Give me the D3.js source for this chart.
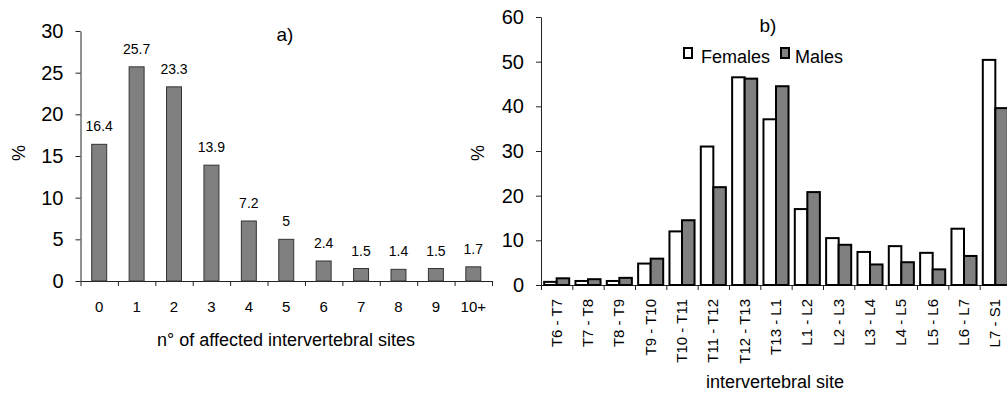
<!DOCTYPE html>
<html>
<head>
<meta charset="utf-8">
<script src="https://cdn.jsdelivr.net/npm/d3@7"></script>
<style>
  body { margin: 0; background: #fff; }
  svg text { font-family: "Liberation Sans", Arial, sans-serif; fill: #000; }
</style>
</head>
<body>
<div id="chart"></div>
<script>
// Panel a) data
var nSites = ["0", "1", "2", "3", "4", "5", "6", "7", "8", "9", "10+"];
var nSitesPct = [16.4, 25.7, 23.3, 13.9, 7.2, 5, 2.4, 1.5, 1.4, 1.5, 1.7];
var yTicksA = [0, 5, 10, 15, 20, 25, 30];

// Panel b) data
var sites = ["T6 - T7", "T7 - T8", "T8 - T9", "T9 - T10", "T10 - T11", "T11 - T12", "T12 - T13",
  "T13 - L1", "L1 - L2", "L2 - L3", "L3 - L4", "L4 - L5", "L5 - L6", "L6 - L7", "L7 - S1"];
var females = [0.7, 0.9, 0.9, 4.8, 12.0, 31.0, 46.5, 37.1, 17.0, 10.5, 7.4, 8.7, 7.2, 12.6, 50.4];
var males = [1.5, 1.3, 1.6, 5.9, 14.5, 21.9, 46.2, 44.5, 20.8, 9.0, 4.6, 5.1, 3.5, 6.5, 39.6];
var seriesNames = ["Females", "Males"];
var yTicksB = [0, 10, 20, 30, 40, 50, 60];

var svg = d3.select("#chart")
  .append("svg")
  .attr("width", 1007)
  .attr("height", 397);

// ---------- panel a ----------
var gA = svg.append("g");

var xA = d3.scaleBand()
  .domain(nSites)
  .range([80.5, 492])
  .paddingInner(0.6)
  .paddingOuter(0.3);

var yA = d3.scaleLinear()
  .domain([0, 30])
  .range([281, 31]);

// y axis
gA.append("g")
  .attr("transform", "translate(80.5,0)")
  .call(d3.axisLeft(yA).tickValues(yTicksA).tickSize(5).tickSizeOuter(0).tickPadding(12))
  .call(g => g.selectAll("text").attr("font-size", "20px").attr("font-family", null))
  .call(g => g.selectAll("line,path").attr("stroke", "#222"));

// x axis ticks at category boundaries
var xAb = d3.scaleLinear().domain([0, nSites.length]).range([80.5, 492]);
gA.append("g")
  .attr("transform", "translate(0,281)")
  .call(d3.axisBottom(xAb).ticks(nSites.length).tickFormat("").tickSize(5).tickSizeOuter(0))
  .call(g => g.selectAll("line,path").attr("stroke", "#222"));

// category labels
gA.append("g").selectAll("text")
  .data(nSites)
  .enter()
  .append("text")
  .attr("x", d => xA(d) + xA.bandwidth() / 2)
  .attr("y", 312)
  .attr("text-anchor", "middle")
  .attr("font-size", "15px")
  .text(d => d);

// bars
gA.append("g").selectAll("rect")
  .data(nSitesPct)
  .enter()
  .append("rect")
  .attr("x", (d, i) => xA(nSites[i]))
  .attr("y", d => yA(d))
  .attr("width", xA.bandwidth())
  .attr("height", d => yA(0) - yA(d))
  .attr("fill", "#808080")
  .attr("stroke", "#333")
  .attr("stroke-width", 1);

// value labels
gA.append("g").selectAll("text")
  .data(nSitesPct)
  .enter()
  .append("text")
  .attr("x", (d, i) => xA(nSites[i]) + xA.bandwidth() / 2)
  .attr("y", d => yA(d) - 13)
  .attr("text-anchor", "middle")
  .attr("font-size", "14px")
  .text(d => d);

gA.append("text")
  .attr("x", 286)
  .attr("y", 346)
  .attr("text-anchor", "middle")
  .attr("font-size", "18px")
  .text("n° of affected intervertebral sites");

gA.append("text")
  .attr("transform", "translate(25,153) rotate(-90)")
  .attr("text-anchor", "middle")
  .attr("font-size", "18px")
  .text("%");

gA.append("text")
  .attr("x", 285)
  .attr("y", 41)
  .attr("text-anchor", "middle")
  .attr("font-size", "19px")
  .text("a)");

// ---------- panel b ----------
var gB = svg.append("g");

var x0 = d3.scaleBand()
  .domain(sites)
  .range([541, 1011])
  .paddingInner(0.2)
  .paddingOuter(0.1);

var x1 = d3.scaleBand()
  .domain(seriesNames)
  .range([0, x0.bandwidth()]);

var yB = d3.scaleLinear()
  .domain([0, 60])
  .range([285, 17]);

gB.append("g")
  .attr("transform", "translate(541,0)")
  .call(d3.axisLeft(yB).tickValues(yTicksB).tickSize(5).tickSizeOuter(0).tickPadding(12))
  .call(g => g.selectAll("text").attr("font-size", "20px").attr("font-family", null))
  .call(g => g.selectAll("line,path").attr("stroke", "#222"));

var xBb = d3.scaleLinear().domain([0, sites.length]).range([541, 1011]);
gB.append("g")
  .attr("transform", "translate(0,285)")
  .call(d3.axisBottom(xBb).ticks(sites.length).tickFormat("").tickSize(5).tickSizeOuter(0))
  .call(g => g.selectAll("line,path").attr("stroke", "#222"));

// rotated site labels
gB.append("g").selectAll("text")
  .data(sites)
  .enter()
  .append("text")
  .attr("transform", d => `translate(${x0(d) + x0.bandwidth() / 2 + 5},299) rotate(-90)`)
  .attr("text-anchor", "end")
  .attr("font-size", "15px")
  .text(d => d);

var groups = gB.append("g").selectAll("g")
  .data(sites.map((s, i) => ({ site: s, values: [females[i], males[i]] })))
  .enter()
  .append("g")
  .attr("transform", d => `translate(${x0(d.site)},0)`);

groups.selectAll("rect")
  .data(d => d.values.map((v, j) => ({ key: seriesNames[j], value: v })))
  .enter()
  .append("rect")
  .attr("x", d => x1(d.key))
  .attr("y", d => yB(d.value))
  .attr("width", x1.bandwidth())
  .attr("height", d => yB(0) - yB(d.value))
  .attr("fill", d => d.key === "Females" ? "#fff" : "#808080")
  .attr("stroke", "#000")
  .attr("stroke-width", 2);

// legend
var legend = gB.append("g").selectAll("g")
  .data(seriesNames)
  .enter()
  .append("g")
  .attr("transform", (d, i) => `translate(${i === 0 ? 684 : 781},48)`);

legend.append("rect")
  .attr("width", 8)
  .attr("height", 10)
  .attr("fill", d => d === "Females" ? "#fff" : "#808080")
  .attr("stroke", "#000")
  .attr("stroke-width", 2);

legend.append("text")
  .attr("x", d => d === "Females" ? 17 : 14)
  .attr("y", 14.5)
  .attr("font-size", "18px")
  .text(d => d);

gB.append("text")
  .attr("x", 775)
  .attr("y", 388)
  .attr("text-anchor", "middle")
  .attr("font-size", "18px")
  .text("intervertebral site");

gB.append("text")
  .attr("transform", "translate(484,153) rotate(-90)")
  .attr("text-anchor", "middle")
  .attr("font-size", "18px")
  .text("%");

gB.append("text")
  .attr("x", 768)
  .attr("y", 32)
  .attr("text-anchor", "middle")
  .attr("font-size", "19px")
  .text("b)");
</script>
</body>
</html>
